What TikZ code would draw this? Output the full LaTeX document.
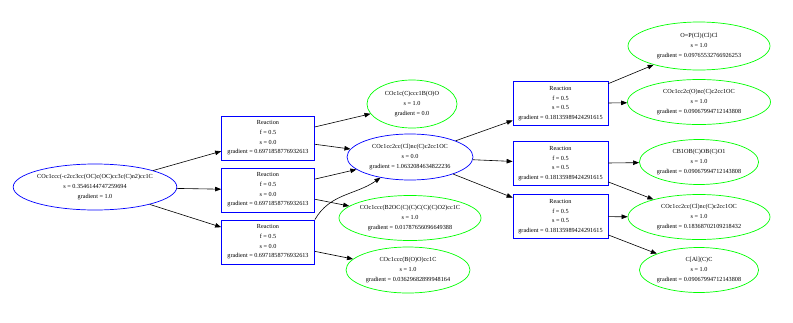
\documentclass[tikz,border=0pt]{standalone}
\usepackage{fontspec}
\setmainfont{Liberation Serif}
\usetikzlibrary{shapes.geometric,arrows.meta}
\begin{document}
\begin{tikzpicture}[x=1pt,y=-1pt,
  every node/.style={font=\fontsize{6.2}{9.6}\selectfont,align=center,line width=0.7pt},
  mol/.style={ellipse,draw,inner sep=0pt},
  rxn/.style={rectangle,draw=blue,inner sep=0pt,minimum width=93pt,minimum height=44pt},
  edge/.style={line width=0.6pt,-{Triangle[length=6pt,width=4.5pt]}}]
\useasboundingbox[fill=white] (0,0) rectangle (793,322);
% molecules
\node[mol,draw=blue,minimum width=140pt,minimum height=46pt] (A) at (95,187)
  {COc1ccc(-c2cc3cc(OC)c(OC)cc3c(C)n2)cc1C\\s = 0.3546144747259694\\gradient = 1.0};
\node[mol,draw=green,minimum width=90pt,minimum height=48pt] (B) at (412,104)
  {COc1c(C)ccc1B(O)O\\s = 1.0\\gradient = 0.0};
\node[mol,draw=blue,minimum width=126pt,minimum height=46pt] (C) at (410,157)
  {COc1cc2cc(Cl)nc(C)c2cc1OC\\s = 0.0\\gradient = 1.0632084634822236};
\node[mol,draw=green,minimum width=142pt,minimum height=45pt] (D) at (410,218)
  {COc1ccc(B2OC(C)(C)C(C)(C)O2)cc1C\\s = 1.0\\gradient = 0.01787656096649388};
\node[mol,draw=green,minimum width=124pt,minimum height=46pt] (E) at (408,270)
  {COc1ccc(B(O)O)cc1C\\s = 1.0\\gradient = 0.03629682899948164};
\node[mol,draw=green,minimum width=142pt,minimum height=48pt] (F) at (699,46)
  {O=P(Cl)(Cl)Cl\\s = 1.0\\gradient = 0.09765532766926253};
\node[mol,draw=green,minimum width=143pt,minimum height=45pt] (G) at (699,102)
  {COc1cc2c(O)nc(C)c2cc1OC\\s = 1.0\\gradient = 0.09067994712143808};
\node[mol,draw=green,minimum width=118pt,minimum height=45pt] (H) at (699,162)
  {CB1OB(C)OB(C)O1\\s = 1.0\\gradient = 0.09067994712143808};
\node[mol,draw=green,minimum width=142pt,minimum height=45pt] (I) at (699,217)
  {COc1cc2cc(Cl)nc(C)c2cc1OC\\s = 1.0\\gradient = 0.18368702109218432};
\node[mol,draw=green,minimum width=118pt,minimum height=45pt] (J) at (699,270)
  {C[Al](C)C\\s = 1.0\\gradient = 0.09067994712143808};
% reactions
\node[rxn] (R1) at (268,138) {Reaction\\f = 0.5\\s = 0.0\\gradient = 0.6971858776932613};
\node[rxn] (R2) at (268,190) {Reaction\\f = 0.5\\s = 0.0\\gradient = 0.6971858776932613};
\node[rxn] (R3) at (268,242) {Reaction\\f = 0.5\\s = 0.0\\gradient = 0.6971858776932613};
\node[rxn,draw=blue,minimum width=95pt] (R4) at (560.5,103.5) {Reaction\\f = 0.5\\s = 0.5\\gradient = 0.18135989424291615};
\node[rxn,draw=blue,minimum width=95pt] (R5) at (560.5,163.5) {Reaction\\f = 0.5\\s = 0.5\\gradient = 0.18135989424291615};
\node[rxn,draw=blue,minimum width=95pt] (R6) at (560.5,216.5) {Reaction\\f = 0.5\\s = 0.5\\gradient = 0.18135989424291615};
% edges
\draw[edge] (A) -- (R1);
\draw[edge] (A) -- (R2);
\draw[edge] (A) -- (R3);
\draw[edge] (R1) -- (B);
\draw[edge] (R1) -- (C);
\draw[edge] (R2) -- (C);
\draw[edge] (R2) -- (D);
\draw[edge] (R3.north east) to[out=60,in=215] (C);
\draw[edge] (R3) -- (E);
\draw[edge] (C) -- (R4);
\draw[edge] (C) -- (R5);
\draw[edge] (C) -- (R6);
\draw[edge] (R4) -- (F);
\draw[edge] (R4) -- (G);
\draw[edge] (R5) -- (H);
\draw[edge] (R5) -- (I);
\draw[edge] (R6) -- (I);
\draw[edge] (R6) -- (J);
\end{tikzpicture}
\end{document}
